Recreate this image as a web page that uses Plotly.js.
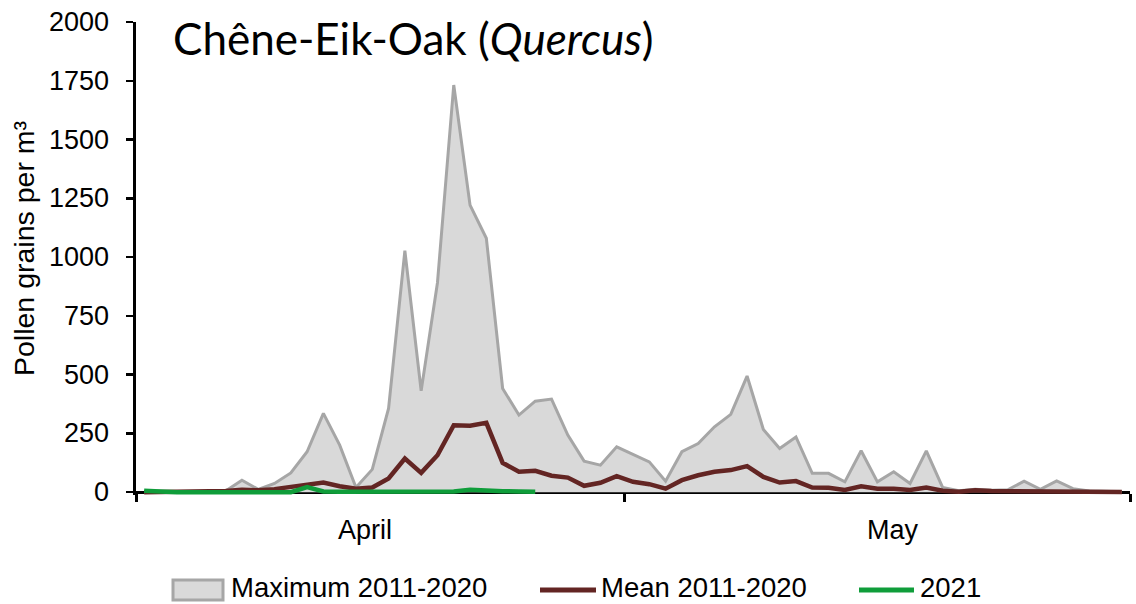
<!DOCTYPE html>
<html><head><meta charset="utf-8">
<script src="https://cdn.plot.ly/plotly-3.0.1.min.js"></script>
<style>html,body{margin:0;padding:0;background:#fff}#chart{width:1136px;height:604px}</style>
</head><body><div id="chart"></div>
<script>
// Daily values, 1 April .. 31 May
const maxVals = [0,0,0,0,0,5,51,12,37,82,
  172,335,200,20,97,356,1027,431,891,1732,
  1221,1080,441,328,387,396,243,132,115,193,
  162,129,47,172,207,278,331,494,267,186,
  235,80,80,44,176,44,87,37,176,20,
  6,12,8,10,47,12,48,15,5,2,2];
const meanVals = [0,1,1,2,3,5,10,8,13,22,
  30,41,25,15,20,58,143,82,157,285,
  283,295,125,87,91,70,62,27,40,68,
  44,34,15,51,72,87,94,111,65,41,
  47,20,19,9,25,15,15,9,20,6,
  2,8,5,4,5,3,5,3,1,1,1];
const vals2021 = [6,1,0,0,0,0,0,0,0,0,
  22,3,2,2,1,0,1,1,2,3,
  10,5,4,3,2];
const seriesNames = ['Maximum 2011-2020','Mean 2011-2020','2021'];
const monthLabels = ['April','May'];
const monthLabelDates = ['2021-04-15 01:00','2021-05-17 11:00'];
const monthBounds = ['2021-04-01','2021-05-01','2021-06-01'];
const yTicks = [0,250,500,750,1000,1250,1500,1750,2000];

// category dates (noon of each day)
const days = [];
const start = Date.UTC(2021,3,1,12);
for (let i = 0; i < maxVals.length; i++) {
  const d = new Date(start + i*86400000);
  days.push(d.toISOString().slice(0,10) + ' 12:00');
}

const ML = 136, MR = 6, MT = 22, MB = 109, W = 1136, H = 604;
const PW = W-ML-MR, PH = H-MT-MB;
const PX = px => (px-ML)/PW;
const PY = py => (H-MB-py)/PH;
const YMIN = -12, YMAX = 2000;

const fontTxt = 'Liberation Sans, Arial, sans-serif';
const colMax = '#a6a6a6', colFill = '#d9d9d9', colMean = '#632523', col21 = '#0f9d3a';

const traces = [
  {x: days, y: maxVals, name: seriesNames[0], type: 'scatter', mode: 'lines',
   fill: 'tozeroy', fillcolor: colFill, line: {color: colMax, width: 3}, showlegend: false},
  {x: days, y: meanVals, name: seriesNames[1], type: 'scatter', mode: 'lines',
   line: {color: colMean, width: 4.5}, showlegend: false},
  {x: days.slice(0, vals2021.length), y: vals2021, name: seriesNames[2], type: 'scatter', mode: 'lines',
   line: {color: col21, width: 4.5}, showlegend: false}
];

const annotations = [
  {text: 'Pollen grains per m³', xref: 'paper', yref: 'paper', x: PX(24), y: PY(249),
   textangle: -90, showarrow: false, xanchor: 'center', yanchor: 'middle',
   font: {family: fontTxt, size: 28.5, color: '#000'}}
];
// y tick labels (placed at the tick values on the y scale)
yTicks.forEach(v => annotations.push({
  text: String(v), xref: 'paper', yref: 'y', x: PX(111), y: v,
  showarrow: false, xanchor: 'right', yanchor: 'middle',
  font: {family: fontTxt, size: 27, color: '#000'}
}));
monthLabels.forEach((m, i) => annotations.push({
  text: m, xref: 'x', yref: 'paper', x: monthLabelDates[i], y: PY(530),
  showarrow: false, xanchor: 'center', yanchor: 'middle',
  font: {family: fontTxt, size: 27, color: '#000'}
}));
// legend
const legTextX = [229, 599, 918];
seriesNames.forEach((n, i) => annotations.push({
  text: n, xref: 'paper', yref: 'paper', x: PX(legTextX[i]), y: PY(587),
  showarrow: false, xanchor: 'left', yanchor: 'middle',
  font: {family: fontTxt, size: 27.5, color: '#000'}
}));
const shapes = [
  {type: 'rect', xref: 'paper', yref: 'paper', x0: PX(173), x1: PX(223), y0: PY(600), y1: PY(580),
   fillcolor: colFill, line: {color: colMax, width: 3}},
  {type: 'line', xref: 'paper', yref: 'paper', x0: PX(540), x1: PX(596), y0: PY(590), y1: PY(590),
   line: {color: colMean, width: 5}},
  {type: 'line', xref: 'paper', yref: 'paper', x0: PX(859), x1: PX(914), y0: PY(590), y1: PY(590),
   line: {color: col21, width: 5}}
];

const layout = {
  width: W, height: H,
  margin: {l: ML, r: MR, t: MT, b: MB, pad: 0},
  paper_bgcolor: '#fff', plot_bgcolor: '#fff',
  showlegend: false,
  title: {text: 'Chêne-Eik-Oak (<i>Quercus</i>)', font: {family: 'Lato, sans-serif', size: 44, color: '#000'},
          x: 173/W, xanchor: 'left', xref: 'container', y: 1-40/H, yanchor: 'middle', yref: 'container'},
  xaxis: {type: 'date', range: [monthBounds[0], monthBounds[2]], tickvals: monthBounds, ticktext: ['','',''],
          ticks: 'outside', ticklen: 8, tickwidth: 3, tickcolor: '#000',
          showline: true, linewidth: 3, linecolor: '#000', showgrid: false, zeroline: false,
          anchor: 'free', position: (0-YMIN)/(YMAX-YMIN), layer: 'below traces', fixedrange: true},
  yaxis: {range: [YMIN, YMAX], tickvals: yTicks, showticklabels: false,
          ticks: 'outside', ticklen: 7, tickwidth: 2.5, tickcolor: '#000',
          showline: true, linewidth: 3, linecolor: '#000', showgrid: false, zeroline: false,
          layer: 'below traces', fixedrange: true},
  annotations: annotations,
  shapes: shapes
};

Plotly.newPlot('chart', traces, layout, {displayModeBar: false, staticPlot: true});
</script>
</body></html>
